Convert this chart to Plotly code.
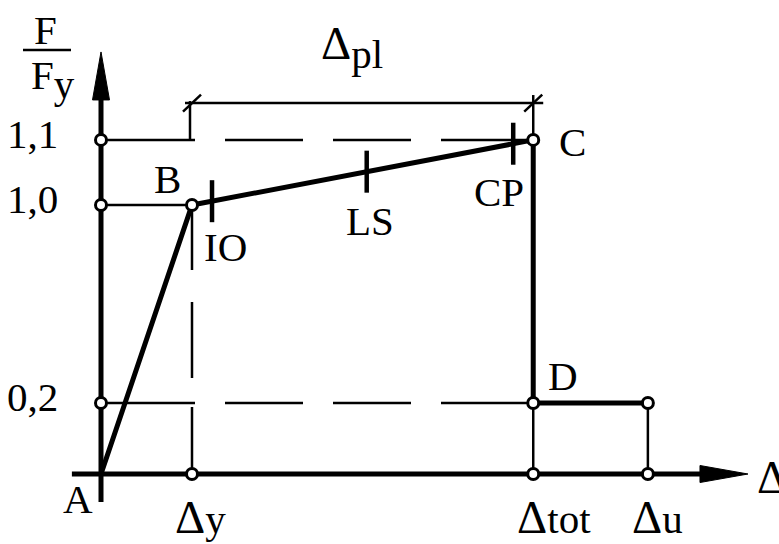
import plotly.graph_objects as go

# ---------------- data (schematic units: displacement in multiples of Δy,
# ---------------- force as drawn height relative to F/Fy = 1) -------------
point_names = ["A", "B", "C", "D", "E"]
disp_x = [0.0, 1.0, 4.75, 4.75, 6.01]
force_y = [0.0, 1.0, 1.242, 0.264, 0.264]

force_tick_labels = ["0,2", "1,0", "1,1"]
force_tick_vals = [0.264, 1.0, 1.242]

disp_tick_labels = ["y", "tot", "u"]          # subscripts of Δ
disp_tick_vals = [1.0, 4.75, 6.01]

perf_labels = ["IO", "LS", "CP"]
perf_x = [1.22, 2.92, 4.53]

dim_label_sub = "pl"
dim_level = 1.379

axis_x_max = 7.11
axis_y_max = 1.569
axis_x_min = -0.32
axis_y_min = -0.104

# ---------------- figure geometry ----------------
W, H = 779, 544
XR = [-1.11, 7.451]
YR = [-0.2602, 1.7621]
SX = W / (XR[1] - XR[0])
SY = H / (YR[1] - YR[0])


def ux(p):
    return p / SX


def uy(p):
    return p / SY


FONT = "Liberation Serif, Times New Roman, serif"
BLACK = "black"
THIN = 2.5
THICK = 5

A, B, C, D, E = [(x, y) for x, y in zip(disp_x, force_y)]

fig = go.Figure()


def seg(xs, ys, width, dash="solid"):
    fig.add_trace(go.Scatter(x=xs, y=ys, mode="lines",
                             line=dict(color=BLACK, width=width, dash=dash),
                             hoverinfo="skip", showlegend=False))


H_DASH = "94px,30px,78px,30px,78px,30px,93px"
V_DASH = "65px,32px,76px,29px,68px"

# thin guide lines
seg([0, B[0]], [force_tick_vals[1], B[1]], THIN)
seg([0, C[0]], [C[1], C[1]], THIN, H_DASH)
seg([0, D[0]], [D[1], D[1]], THIN, H_DASH)
seg([B[0], B[0]], [B[1], 0], THIN, V_DASH)
seg([D[0], D[0]], [D[1], 0], THIN)
seg([E[0], E[0]], [E[1], 0], THIN)

# dimension line Δpl
seg([B[0] - ux(7), C[0] + ux(10)], [dim_level, dim_level], THIN)
seg([B[0] - ux(2), B[0] - ux(2)], [dim_level + uy(2), C[1]], THIN)
seg([C[0], C[0]], [dim_level + uy(8), C[1]], THIN)
for xc in (B[0], C[0]):
    seg([xc - ux(9), xc + ux(9)], [dim_level - uy(8.5), dim_level + uy(8.5)], THIN)

# axes
ARROW_LEN = 48
ARROW_HALF = 8.5
seg([0, 0], [axis_y_min, axis_y_max - uy(ARROW_LEN - 4)], THICK)
seg([axis_x_min, axis_x_max - ux(ARROW_LEN - 4)], [0, 0], THICK)
fig.add_trace(go.Scatter(
    x=[0, -ux(ARROW_HALF), ux(ARROW_HALF), 0],
    y=[axis_y_max, axis_y_max - uy(ARROW_LEN), axis_y_max - uy(ARROW_LEN), axis_y_max],
    mode="lines", fill="toself", fillcolor=BLACK,
    line=dict(color=BLACK, width=1), hoverinfo="skip", showlegend=False))
fig.add_trace(go.Scatter(
    x=[axis_x_max, axis_x_max - ux(ARROW_LEN), axis_x_max - ux(ARROW_LEN), axis_x_max],
    y=[0, uy(ARROW_HALF), -uy(ARROW_HALF), 0],
    mode="lines", fill="toself", fillcolor=BLACK,
    line=dict(color=BLACK, width=1), hoverinfo="skip", showlegend=False))

# capacity curve
seg(disp_x, force_y, THICK)

# performance level ticks on segment B-C
px_, py_ = [], []
perf_y = []
for xv in perf_x:
    t = (xv - B[0]) / (C[0] - B[0])
    yv = B[1] + t * (C[1] - B[1])
    perf_y.append(yv)
    px_ += [xv, xv, None]
    py_ += [yv - uy(21), yv + uy(21), None]
fig.add_trace(go.Scatter(x=px_, y=py_, mode="lines",
                         line=dict(color=BLACK, width=4.5),
                         hoverinfo="skip", showlegend=False))

# open circle markers
mx = [0] * len(force_tick_vals) + disp_tick_vals + [B[0], C[0], D[0], E[0]]
my = force_tick_vals + [0] * len(disp_tick_vals) + [B[1], C[1], D[1], E[1]]
fig.add_trace(go.Scatter(x=mx, y=my, mode="markers",
                         marker=dict(size=11, color="white",
                                     line=dict(color=BLACK, width=3)),
                         hoverinfo="skip", showlegend=False))

# ---------------- text ----------------
FS = 41
DS = 47


def note(x, y, text, xs=0, ys=0, xanchor="center", yanchor="middle", size=FS):
    fig.add_annotation(x=x, y=y, text=text, showarrow=False,
                       xshift=xs, yshift=ys, xanchor=xanchor, yanchor=yanchor,
                       font=dict(family=FONT, size=size, color=BLACK))


for lab, v in zip(force_tick_labels, force_tick_vals):
    note(0, v, lab, xs=-41, ys=6, xanchor="right")

for lab, v, dx in zip(disp_tick_labels, disp_tick_vals, [8, 21, 10]):
    note(v, 0, f'<span style="font-size:{DS}px">Δ</span>{lab}', xs=dx, ys=-43,
         yanchor="middle")

note(A[0], A[1], point_names[0], xs=-23, ys=-25)
note(B[0], B[1], point_names[1], xs=-25, ys=26)
note(C[0], C[1], point_names[2], xs=39, ys=-2)
note(D[0], D[1], point_names[3], xs=30, ys=27)

for lab, xv, yv, dx, dy in zip(perf_labels, perf_x, perf_y, [13, 3, -14], [-46, -49, -48]):
    note(xv, yv, lab, xs=dx, ys=dy)

note((B[0] + C[0]) / 2, dim_level,
     f'<span style="font-size:{DS}px">Δ</span><sub><span style="font-size:{FS}px">{dim_label_sub}</span></sub>',
     xs=-11, ys=56)

note(axis_x_max, 0, f'<span style="font-size:{DS}px">Δ</span>', xs=7, ys=-3, xanchor="left")

# F / Fy fraction at the top of the vertical axis
fy_x = -ux(101 - 47)
note(fy_x, axis_y_max, "F", xs=-2, ys=22)
fig.add_shape(type="line", x0=fy_x - ux(24), x1=fy_x + ux(24),
              y0=axis_y_max + uy(2), y1=axis_y_max + uy(2),
              line=dict(color=BLACK, width=THIN))
note(fy_x, axis_y_max, f'F<sub><span style="font-size:{FS}px">y</span></sub>', xs=6, ys=-28)

fig.update_layout(
    width=W, height=H,
    margin=dict(l=0, r=0, t=0, b=0),
    paper_bgcolor="white", plot_bgcolor="white",
    xaxis=dict(range=XR, visible=False, fixedrange=True),
    yaxis=dict(range=YR, visible=False, fixedrange=True),
    showlegend=False,
)

fig.write_html("out.html", config={"displayModeBar": False},
               post_script="document.body.style.margin='0';")
